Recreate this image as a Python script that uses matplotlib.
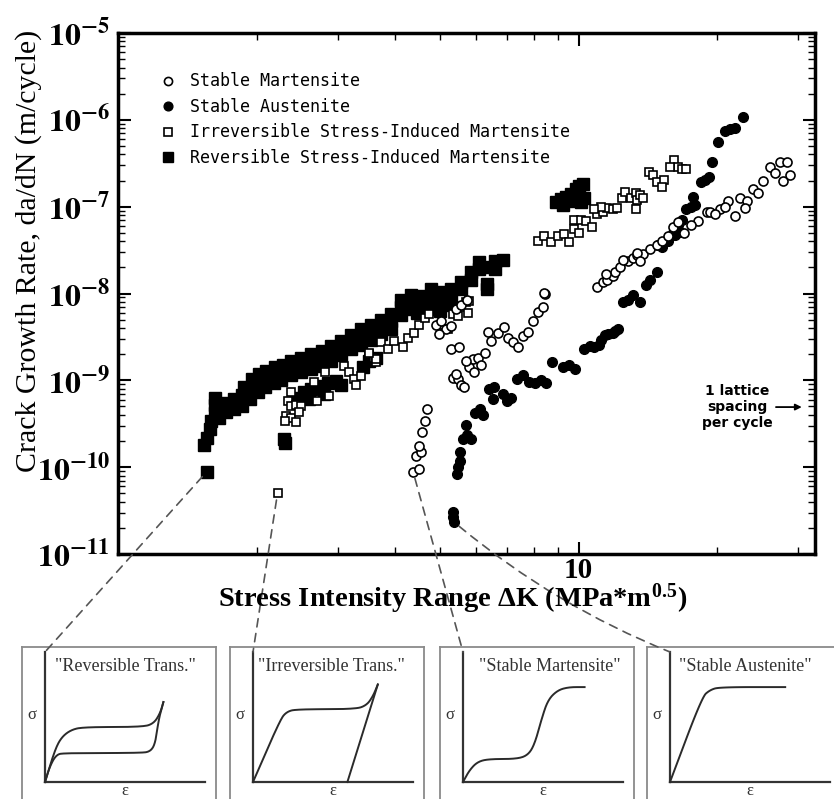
import numpy as np
import matplotlib
matplotlib.use("Agg")
import matplotlib.pyplot as plt
from matplotlib.patches import ConnectionPatch
from matplotlib.ticker import LogLocator, NullFormatter

plt.rcParams['mathtext.fontset'] = 'stix'

# ---------------- data (Delta K in MPa*m^0.5, log10 of da/dN in m/cycle) -------------
sm_dk = [4.37, 4.51, 4.44, 4.55, 4.51, 4.58, 4.65, 4.69,
         5.28, 5.50, 5.33, 5.47, 5.55, 5.63, 5.42, 5.78, 5.90, 6.05, 6.14, 6.26, 5.93, 5.69,
         6.36, 6.45, 6.68, 6.88, 7.02, 7.20, 7.38, 7.57, 7.75, 7.95, 8.15, 8.36, 8.45,
         4.90, 5.03, 5.15, 5.28, 4.98, 5.42, 5.55, 5.72, 8.40,
         10.95, 11.3, 11.55, 11.85, 12.0, 12.3, 12.8, 13.1, 13.4, 13.8,
         14.3, 14.8, 15.2, 15.6, 16.0, 16.4, 16.9, 18.2, 19.0, 19.3,
         20.3, 21.1, 21.9, 22.4, 23.2, 23.0, 23.9, 24.5, 25.1, 26.0,
         26.7, 27.4, 28.4, 27.8, 28.8, 12.5, 13.4,
         11.45, 13.6, 17.5, 19.8, 20.8]
sm_log_dadn = [-10.05, -10.02, -9.87, -9.83, -9.76, -9.59, -9.47, -9.33,
               -8.64, -8.62, -8.97, -8.99, -9.05, -9.08, -8.93, -8.85, -8.76, -8.74, -8.82, -8.68, -8.90, -8.78,
               -8.44, -8.55, -8.45, -8.39, -8.51, -8.56, -8.62, -8.49, -8.44, -8.32, -8.21, -8.15, -8.00,
               -8.36, -8.32, -8.41, -8.38, -8.47, -8.18, -8.13, -8.07, -7.99,
               -7.92, -7.87, -7.84, -7.80, -7.75, -7.69, -7.63, -7.59, -7.56, -7.54,
               -7.49, -7.44, -7.40, -7.34, -7.23, -7.18, -7.30, -7.17, -7.06, -7.06,
               -7.03, -6.94, -7.11, -6.90, -6.94, -7.01, -6.80, -6.84, -6.71, -6.54,
               -6.61, -6.48, -6.48, -6.71, -6.63, -7.61, -7.53,
               -7.78, -7.63, -7.21, -7.09, -7.00]

sa_dk = [5.33, 5.33, 5.36, 5.44, 5.47, 5.52, 5.52, 5.61, 5.72, 5.84,
         5.69, 5.97, 6.11, 6.20, 6.39, 6.55, 6.51, 6.85, 6.98, 7.13,
         7.35, 7.57, 7.79, 8.03, 8.28, 8.49, 8.74, 9.23, 9.51, 9.80,
         10.25, 10.6, 11.05, 11.2, 11.4, 11.85, 12.2, 12.5, 12.8, 13.1,
         13.6, 14.0, 14.3, 14.8, 15.2, 15.6, 16.2, 16.6, 14.9, 16.0,
         16.4, 16.8, 17.1, 17.5, 17.9, 17.7, 18.4, 18.8, 19.2, 19.5,
         20.1, 20.8, 21.3, 21.9, 22.8, 10.8, 11.6, 12.0]
sa_log_dadn = [-10.52, -10.57, -10.63, -10.08, -10.00, -9.93, -9.82, -9.68, -9.63, -9.68,
               -9.51, -9.38, -9.33, -9.40, -9.10, -9.08, -9.22, -9.16, -9.24, -9.20,
               -8.99, -8.94, -9.02, -9.03, -9.00, -9.03, -8.79, -8.85, -8.82, -8.87,
               -8.64, -8.60, -8.59, -8.53, -8.48, -8.45, -8.41, -8.10, -8.07, -8.02,
               -8.10, -7.90, -7.84, -7.75, -7.47, -7.40, -7.33, -7.29, -7.44, -7.30,
               -7.21, -7.15, -7.03, -7.00, -6.98, -6.89, -6.72, -6.69, -6.66, -6.48,
               -6.26, -6.13, -6.11, -6.09, -5.97, -8.62, -8.47, -8.43]

ir_dk = [2.22,
         2.38, 2.34, 2.38, 2.44, 2.50, 2.32, 2.38, 2.44, 2.30, 2.47,
         2.70, 2.87, 2.66, 2.81, 3.09, 3.17, 3.26, 3.29, 3.50, 3.59,
         3.64, 3.37, 3.64, 3.50, 3.73, 3.86, 3.98, 4.16, 4.27, 4.40,
         4.51, 4.63, 4.74, 5.03, 5.20, 5.33, 5.47, 5.55, 5.69, 5.78, 5.75,
         8.15, 8.40, 8.70, 9.01, 9.28, 9.51, 9.75, 10.0, 9.75, 10.1,
         10.4, 10.7, 10.95, 11.3, 11.55, 11.85, 12.1, 12.4, 12.6, 13.0,
         13.3, 13.4, 13.6, 13.8, 13.3, 14.2, 14.5, 14.8, 15.3, 15.2,
         16.1, 16.4, 15.8, 16.8, 17.1, 11.2, 10.8]
ir_log_dadn = [-10.30,
               -9.14, -9.24, -9.30, -9.28, -9.30, -9.41, -9.43, -9.48, -9.47, -9.37,
               -9.24, -9.18, -9.02, -8.90, -8.84, -8.90, -8.99, -9.05, -8.70, -8.74,
               -8.79, -8.95, -8.76, -8.68, -8.56, -8.64, -8.55, -8.62, -8.51, -8.45,
               -8.36, -8.28, -8.24, -8.36, -8.41, -8.24, -8.26, -8.16, -8.10, -8.09, -8.22,
               -7.40, -7.34, -7.41, -7.34, -7.32, -7.41, -7.26, -7.30, -7.15, -7.15,
               -7.17, -7.23, -7.09, -7.06, -7.01, -7.03, -7.01, -6.90, -6.83, -6.90,
               -6.84, -6.92, -6.86, -6.90, -7.03, -6.60, -6.63, -6.72, -6.69, -6.77,
               -6.46, -6.54, -6.54, -6.57, -6.57, -7.00, -7.03]

rv_dk = [1.54, 1.56, 1.58, 1.59, 1.62, 1.62, 1.62, 1.66, 1.66, 1.72, 1.72, 1.79, 1.79,
         1.86, 1.86, 1.88, 1.93, 1.93, 1.95, 2.01, 2.01, 2.02, 2.09, 2.09, 2.10,
         2.18, 2.18, 2.19, 2.26, 2.27, 2.28, 2.38, 2.38, 2.38, 2.50, 2.50, 2.50,
         2.63, 2.63, 2.63, 2.77, 2.77, 2.77, 2.90, 2.90, 2.90, 3.05, 3.05, 3.05,
         3.21, 3.21, 3.21, 3.37, 3.37, 3.37, 3.55, 3.55, 3.55, 3.73, 3.73, 3.73,
         3.92, 3.92, 3.92, 4.12, 4.12, 4.12, 4.33, 4.33, 4.33, 4.55, 4.55,
         4.78, 4.78, 5.03, 5.03, 5.28, 5.28, 5.55, 5.55, 5.84, 5.84, 6.08, 6.08,
         6.33, 6.33, 6.33, 6.58, 6.58, 6.85,
         4.45, 4.70, 5.00, 5.25,
         2.44, 2.53, 2.63, 2.74, 2.85, 2.97, 3.05, 2.80, 2.60, 2.29, 2.30,
         3.41, 3.51, 3.64, 1.56,
         8.92, 9.14, 9.37, 9.61, 9.85, 10.0, 10.2, 9.70, 10.1, 10.25, 9.23]
rv_log_dadn = [-9.75, -9.66, -9.56, -9.47, -9.38, -9.28, -9.20, -9.43, -9.32, -9.37, -9.26, -9.33, -9.22,
               -9.29, -9.17, -9.08, -9.22, -9.10, -8.99, -9.13, -9.02, -8.93, -9.08, -8.98, -8.89,
               -9.03, -8.93, -8.85, -9.00, -8.90, -8.82, -8.94, -8.85, -8.78, -8.90, -8.80, -8.74,
               -8.87, -8.78, -8.70, -8.83, -8.74, -8.66, -8.78, -8.69, -8.61, -8.71, -8.62, -8.55,
               -8.64, -8.55, -8.48, -8.59, -8.49, -8.41, -8.53, -8.44, -8.36, -8.47, -8.38, -8.30,
               -8.41, -8.32, -8.24, -8.25, -8.16, -8.07, -8.18, -8.09, -8.02, -8.13, -8.03,
               -8.05, -7.95, -8.07, -7.98, -8.05, -7.95, -7.95, -7.87, -7.84, -7.75, -7.72, -7.64,
               -7.70, -7.89, -7.95, -7.63, -7.72, -7.61,
               -8.22, -8.18, -8.20, -8.13,
               -9.20, -9.14, -9.10, -9.07, -9.03, -9.01, -9.05, -9.16, -9.22, -9.68, -9.72,
               -8.85, -8.78, -8.74, -10.05,
               -6.95, -6.91, -6.89, -6.85, -6.80, -6.76, -6.74, -6.94, -6.95, -6.90, -6.98]

series_labels = ["Stable Martensite", "Stable Austenite",
                 "Irreversible Stress-Induced Martensite",
                 "Reversible Stress-Induced Martensite"]

y_tick_exponents = [-11, -10, -9, -8, -7, -6, -5]
x_tick_values = [10]
x_tick_labels = ["10"]

# schematic stress-strain curves for the insets (normalised strain, stress)
rev_load_eps = [0, 0.06, 0.10, 0.16, 0.24, 0.61, 0.68, 0.72, 0.74]
rev_load_sig = [0, 0.24, 0.34, 0.40, 0.423, 0.423, 0.45, 0.53, 0.615]
rev_unload_eps = [0.74, 0.71, 0.69, 0.66, 0.60, 0.12, 0.07, 0.03, 0]
rev_unload_sig = [0.615, 0.48, 0.30, 0.235, 0.223, 0.223, 0.21, 0.12, 0]
irr_load_eps = [0, 0.17, 0.21, 0.27, 0.64, 0.71, 0.75, 0.78]
irr_load_sig = [0, 0.48, 0.54, 0.56, 0.56, 0.59, 0.66, 0.75]
irr_unload_eps = [0.78, 0.59]
irr_unload_sig = [0.75, 0.0]
smart_eps = [0, 0.04, 0.09, 0.16, 0.34, 0.41, 0.45, 0.49, 0.53, 0.59, 0.66, 0.76]
smart_sig = [0, 0.09, 0.155, 0.177, 0.177, 0.21, 0.30, 0.48, 0.63, 0.705, 0.73, 0.73]
saus_eps = [0, 0.20, 0.25, 0.31, 0.72]
saus_sig = [0, 0.654, 0.708, 0.73, 0.73]

panel_titles = ['"Reversible Trans."', '"Irreversible Trans."',
                '"Stable Martensite"', '"Stable Austenite"']


def chaikin(x, y, n=3):
    p = np.column_stack([x, y]).astype(float)
    for _ in range(n):
        q = 0.75 * p[:-1] + 0.25 * p[1:]
        r = 0.25 * p[:-1] + 0.75 * p[1:]
        new = np.empty((2 * len(q), 2))
        new[0::2] = q
        new[1::2] = r
        p = np.vstack([p[:1], new, p[-1:]])
    return p[:, 0], p[:, 1]


W, H = 834, 799
fig = plt.figure(figsize=(W / 100, H / 100), dpi=100)
fig.patch.set_facecolor("white")

ax = fig.add_axes([118 / W, 1 - 554 / H, 697 / W, 521 / H])
ax.set_xscale("log")
ax.set_yscale("log")
ax.set_xlim(1.0, 32.6)
ax.set_ylim(1e-11, 1e-5)

rv_rate = 10.0 ** np.array(rv_log_dadn)
sa_rate = 10.0 ** np.array(sa_log_dadn)
ir_rate = 10.0 ** np.array(ir_log_dadn)
sm_rate = 10.0 ** np.array(sm_log_dadn)

h_rv, = ax.plot(rv_dk, rv_rate, "s", color="black", ms=8.3, zorder=2, label=series_labels[3])
h_sa, = ax.plot(sa_dk, sa_rate, "o", color="black", ms=7, zorder=3, label=series_labels[1])
h_ir, = ax.plot(ir_dk, ir_rate, "s", mfc="white", mec="black", ms=6, mew=1.2, zorder=4,
                label=series_labels[2])
h_sm, = ax.plot(sm_dk, sm_rate, "o", mfc="white", mec="black", ms=6.5, mew=1.2, zorder=5,
                label=series_labels[0])

leg = ax.legend(handles=[h_sm, h_sa, h_ir, h_rv], loc="upper left",
                bbox_to_anchor=(0.05, 0.937), borderaxespad=0, frameon=False,
                prop={"family": "DejaVu Sans Mono", "size": 12},
                handlelength=1.0, handletextpad=0.85, labelspacing=0.45, markerscale=0.9)

for s in ax.spines.values():
    s.set_linewidth(2.5)

ax.set_yticks([10.0 ** e for e in y_tick_exponents])
ax.set_yticklabels([r"$\mathbf{10^{%d}}$" % e for e in y_tick_exponents], fontsize=23)
ax.yaxis.set_minor_locator(LogLocator(base=10, subs=np.arange(2, 10)))
ax.yaxis.set_minor_formatter(NullFormatter())
ax.set_xticks(x_tick_values)
ax.set_xticklabels(x_tick_labels, fontsize=21, fontweight="bold", family="Liberation Serif")
ax.xaxis.set_minor_locator(LogLocator(base=10, subs=np.arange(2, 10)))
ax.xaxis.set_minor_formatter(NullFormatter())
ax.tick_params(which="both", direction="in", top=True, right=True)
ax.tick_params(which="major", length=9, width=1.5)
ax.tick_params(which="minor", length=5, width=1)
ax.tick_params(axis="y", pad=6)
ax.tick_params(axis="x", pad=2)

fig.text(29 / W, 1 - 251 / H, "Crack Growth Rate, da/dN (m/cycle)", rotation=90,
         ha="center", va="center", fontsize=21.5, family="Liberation Serif")
fig.text(453 / W, 1 - 599 / H, r"Stress Intensity Range ΔK (MPa*m$^{\mathregular{0.5}}$)",
         ha="center", va="center", fontsize=20.5, fontweight="bold", family="Liberation Serif")

ax.text(0.888, 0.282, "1 lattice\nspacing\nper cycle", transform=ax.transAxes,
        ha="center", va="center", fontsize=10, fontweight="bold", family="DejaVu Sans")
ax.annotate("", xy=(0.985, 0.282), xytext=(0.94, 0.282), xycoords="axes fraction",
            arrowprops=dict(arrowstyle="-|>", color="black", lw=1.3, mutation_scale=9))

# ---------------- inset panels ----------------
sig_axis_x = [45, 253, 463, 670]
panel_w = 194
curves = [
    [(rev_load_eps, rev_load_sig), (rev_unload_eps, rev_unload_sig)],
    [(irr_load_eps, irr_load_sig), (irr_unload_eps, irr_unload_sig)],
    [(smart_eps, smart_sig)],
    [(saus_eps, saus_sig)],
]
title_x = [0.50, 0.49, 0.54, 0.47]
insets = []
for i, sx in enumerate(sig_axis_x):
    left = sx - 23
    iax = fig.add_axes([left / W, 0, panel_w / W, (799 - 647) / H])
    iax.set_xlim(-23 / 160, (panel_w - 23) / 160)
    iax.set_ylim(-17 / 130, 135 / 130)
    iax.set_xticks([])
    iax.set_yticks([])
    for name, s in iax.spines.items():
        s.set_color("#8a8a8a")
        s.set_linewidth(1.3)
    iax.spines["bottom"].set_visible(False)
    iax.plot([0, 0], [0, 1.0], color="#333333", lw=1.6)
    iax.plot([0, 1.0], [0, 0], color="#333333", lw=1.6)
    for ex, sy in curves[i]:
        if len(ex) > 2:
            cx, cy = chaikin(ex, sy, 4)
        else:
            cx, cy = ex, sy
        iax.plot(cx, cy, color="#2a2a2a", lw=1.4)
    iax.text(title_x[i], 0.885, panel_titles[i], ha="center", va="center",
             fontsize=13, family="Liberation Serif", color="#333333")
    iax.text(-0.085, 0.515, "σ", ha="center", va="center", fontsize=12,
             family="Liberation Serif", color="#333333")
    iax.text(0.5, -0.07, "ε", ha="center", va="center", fontsize=12,
             family="Liberation Serif", color="#333333")
    insets.append(iax)

# ---------------- dashed connectors from thresholds to the insets ----------------
anchors = []
for dk, rate in [(rv_dk, rv_rate), (ir_dk, ir_rate), (sm_dk, sm_rate), (sa_dk, sa_rate)]:
    j = int(np.argmin(rate))
    anchors.append((dk[j], rate[j]))
rads = [0.0, 0.0, 0.0, 0.08]
for (k, r), iax, rad in zip(anchors, insets, rads):
    con = ConnectionPatch(xyA=(k, r), coordsA=ax.transData, xyB=(0.0, 1.0),
                          coordsB=iax.transData, color="#555555", lw=1.2,
                          linestyle=(0, (5, 4)), shrinkA=5, shrinkB=0,
                          connectionstyle="arc3,rad=%g" % rad)
    fig.add_artist(con)

fig.savefig("out.png", dpi=100, facecolor="white")
